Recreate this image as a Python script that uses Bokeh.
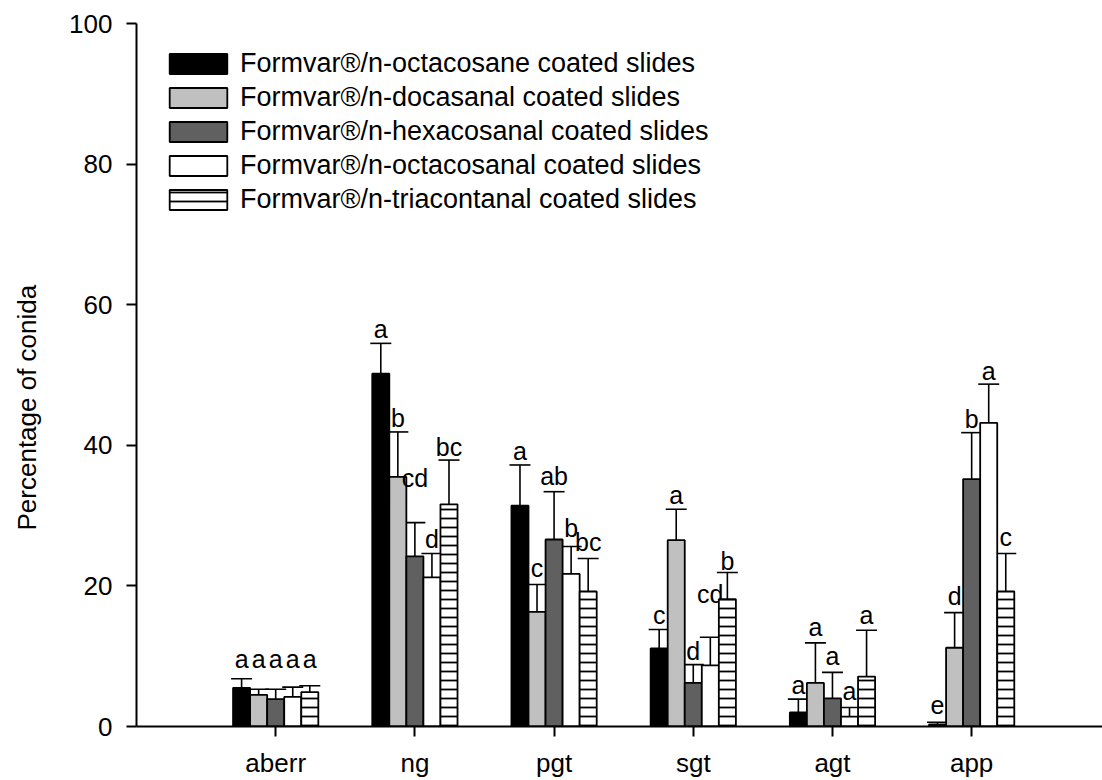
from bokeh.plotting import figure
from bokeh.models import (ColumnDataSource, Whisker, TeeHead, Legend, LegendItem,
                          FixedTicker, Range1d, Title)
from bokeh.transform import dodge
from bokeh.core.properties import value
from bokeh.embed import file_html
from bokeh.resources import INLINE

categories = ["aberr", "ng", "pgt", "sgt", "agt", "app"]

series_names = [
    "Formvar®/n-octacosane coated slides",
    "Formvar®/n-docasanal coated slides",
    "Formvar®/n-hexacosanal coated slides",
    "Formvar®/n-octacosanal coated slides",
    "Formvar®/n-triacontanal coated slides",
]

octacosane = [5.5, 50.2, 31.4, 11.1, 2.0, 0.3]
octacosane_err = [1.3, 4.3, 5.8, 2.7, 1.9, 0.3]
octacosane_letters = ["a", "a", "a", "c", "a", "e"]
octacosane_letter_y = [8.6, 55.5, 38.2, 14.8, 4.9, 2.1]

docasanal = [4.5, 35.5, 16.3, 26.5, 6.2, 11.2]
docasanal_err = [0.8, 6.4, 3.9, 4.4, 5.7, 5.0]
docasanal_letters = ["a", "b", "c", "a", "a", "d"]
docasanal_letter_y = [8.6, 42.9, 21.6, 31.9, 13.1, 17.5]

hexacosanal = [3.9, 24.2, 26.6, 6.2, 4.0, 35.2]
hexacosanal_err = [1.4, 4.8, 6.8, 2.6, 3.7, 6.6]
hexacosanal_letters = ["a", "cd", "ab", "d", "a", "b"]
hexacosanal_letter_y = [8.6, 34.3, 34.6, 9.7, 9.1, 42.8]

octacosanal = [4.2, 21.2, 21.7, 8.7, 1.4, 43.2]
octacosanal_err = [1.4, 3.4, 3.9, 4.0, 1.3, 5.5]
octacosanal_letters = ["a", "d", "b", "cd", "a", "a"]
octacosanal_letter_y = [8.6, 25.7, 27.3, 17.8, 4.1, 49.6]

triacontanal = [4.9, 31.6, 19.2, 18.1, 7.1, 19.2]
triacontanal_err = [0.9, 6.3, 4.7, 3.8, 6.6, 5.4]
triacontanal_letters = ["a", "bc", "bc", "b", "a", "c"]
triacontanal_letter_y = [8.6, 38.8, 25.2, 22.6, 14.8, 25.9]

y_ticks = [0, 20, 40, 60, 80, 100]

values = [octacosane, docasanal, hexacosanal, octacosanal, triacontanal]
errors = [octacosane_err, docasanal_err, hexacosanal_err, octacosanal_err, triacontanal_err]
letters = [octacosane_letters, docasanal_letters, hexacosanal_letters,
           octacosanal_letters, triacontanal_letters]
letter_ys = [octacosane_letter_y, docasanal_letter_y, hexacosanal_letter_y,
             octacosanal_letter_y, triacontanal_letter_y]

fills = ["#000000", "#c0c0c0", "#606060", "#ffffff", "#ffffff"]
hatches = [None, None, None, None, "horizontal_line"]

FONT = "Liberation Sans"

p = figure(width=1102, height=780, x_range=Range1d(0, 6.94), y_range=Range1d(0, 100),
           output_backend="svg", toolbar_location=None,
           min_border_left=136, min_border_right=0, min_border_top=23, min_border_bottom=54)
p.outline_line_color = None
p.xgrid.visible = False
p.ygrid.visible = False
p.background_fill_color = "white"

bar_w = 0.1225
xs = [i + 1 for i in range(len(categories))]

legend_items = []
for k in range(5):
    up = [v + e for v, e in zip(values[k], errors[k])]
    src = ColumnDataSource(dict(x=xs, top=values[k], upper=up,
                                letter=letters[k], ly=letter_ys[k]))
    off = (k - 2) * bar_w
    xd = dodge("x", off, range=p.x_range)
    kw = {}
    if hatches[k]:
        kw = dict(hatch_pattern=hatches[k], hatch_scale=9, hatch_weight=1.8,
                  hatch_color="black")
    r = p.vbar(x=xd, top="top", bottom=0, width=bar_w, source=src,
               fill_color=fills[k], line_color="black", line_width=1.8, **kw)
    w = Whisker(source=src, base=xd, lower="top", upper="upper", dimension="height",
                line_color="black", line_width=1.6, lower_head=None,
                upper_head=TeeHead(size=21, line_width=1.6, line_color="black"))
    p.add_layout(w)
    p.text(x=xd, y="ly", text="letter", source=src, text_align="center",
           text_baseline="alphabetic", y_offset=-7, text_font=value(FONT),
           text_font_size="25px", text_color="black")
    legend_items.append(LegendItem(label=series_names[k], renderers=[r]))

legend = Legend(items=legend_items, location=(26, 511), glyph_width=72, glyph_height=25,
                label_text_font=FONT, label_text_font_size="27px", label_text_color="black",
                label_standoff=6, spacing=3, padding=0, margin=0, border_line_color=None,
                background_fill_alpha=0)
p.add_layout(legend)

for ax in (p.xaxis, p.yaxis):
    ax.axis_line_width = 2
    ax.axis_line_color = "black"
    ax.major_tick_line_width = 2
    ax.major_tick_line_color = "black"
    ax.major_tick_in = 0
    ax.major_tick_out = 10
    ax.minor_tick_line_color = None
    ax.major_label_text_font = FONT
    ax.major_label_text_font_size = "26px"
    ax.major_label_text_color = "black"

p.xaxis.ticker = FixedTicker(ticks=xs)
p.xaxis.major_label_overrides = {x: c for x, c in zip(xs, categories)}
p.xaxis.major_label_standoff = 11
p.yaxis.ticker = FixedTicker(ticks=y_ticks)
p.yaxis.major_label_standoff = 14
# blank spacer so the rotated title sits further left, as in the reference
p.yaxis.axis_label = " "
p.yaxis.axis_label_text_font_size = "16px"
p.yaxis.axis_label_standoff = 5

ytitle = Title(text="Percentage of conida", align="left", offset=196,
               text_font=FONT, text_font_size="26px", text_font_style="normal",
               text_color="black", standoff=0)
p.add_layout(ytitle, "left")

open("out.html", "w").write(file_html(p, INLINE))
